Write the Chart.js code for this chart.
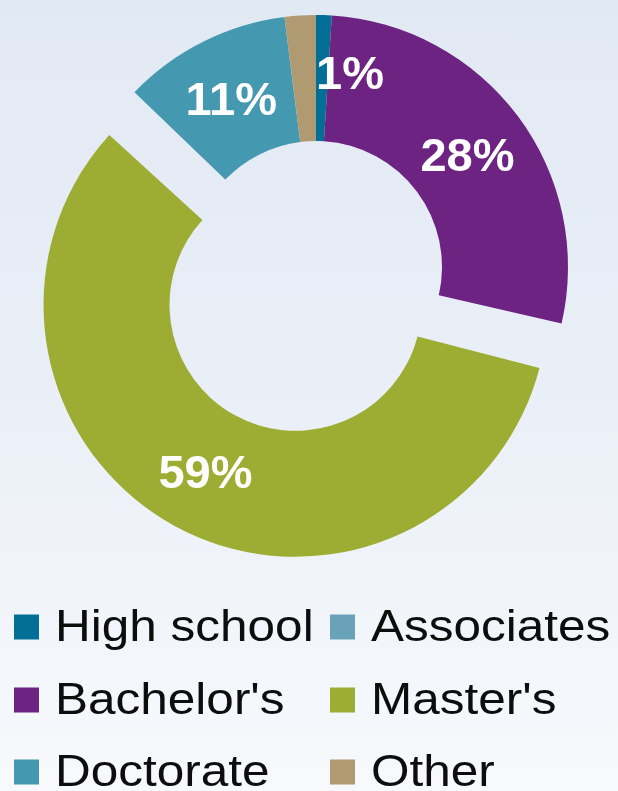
<!DOCTYPE html>
<html lang="en">
<head>
    <meta charset="UTF-8">
    <title>Highest degree</title>
    <script src="https://cdn.jsdelivr.net/npm/chart.js"></script>
    <style>
        html, body {
            margin: 0;
            padding: 0;
        }
        body {
            width: 618px;
            height: 791px;
            background: linear-gradient(to bottom, #e1e9f3 0%, #eaeff7 50%, #f7f9fc 100%);
            font-family: 'Liberation Sans', Arial, sans-serif;
            overflow: hidden;
        }
        canvas {
            display: block;
        }
    </style>
</head>
<body>
    <canvas id="degreeChart" width="618" height="791"></canvas>

    <script>
        // Data
        const categories = ['High school', 'Associates', "Bachelor's", "Master's", 'Doctorate', 'Other'];
        const shares = [1.0, 0, 27.6, 58.6, 10.8, 2.0];
        const showValue = [true, false, true, true, true, false];
        const colors = ['#036f96', '#6aa3b9', '#6d2382', '#9dad33', '#4499b0', '#b09a72'];
        // only Master's is pulled out of the ring
        const explode = [0, 0, 0, 43, 0, 0];

        // extra radius Chart.js adds when it draws an offset arc
        function radiusGrow(arc) {
            const off = (arc.options.offset || 0) / 4;
            return off * (1 - Math.sin(Math.min(Math.PI, arc.circumference || 0)));
        }

        // Chart.js translates an offset arc by offset/4 and also grows its radii;
        // keep the radii equal to the ring and only move the slice
        const explodeFix = {
            id: 'explodeFix',
            beforeDatasetsDraw(chart) {
                const meta = chart.getDatasetMeta(0);
                const ctrl = meta.controller;
                meta.data.forEach(arc => {
                    const grow = radiusGrow(arc);
                    if (grow) {
                        arc.outerRadius = ctrl.outerRadius - grow;
                        arc.innerRadius = ctrl.innerRadius - grow;
                    }
                });
            }
        };

        const sliceLabels = {
            id: 'sliceLabels',
            afterDatasetsDraw(chart) {
                const ctx = chart.ctx;
                const meta = chart.getDatasetMeta(0);
                const total = shares.reduce((a, b) => a + b, 0);
                const size = 47;
                ctx.save();
                ctx.fillStyle = '#ffffff';
                ctx.font = 'bold ' + size + 'px "Liberation Sans", Arial, sans-serif';
                ctx.textBaseline = 'alphabetic';
                const lift = size * 0.716 / 2;
                meta.data.forEach((arc, i) => {
                    if (!showValue[i]) return;
                    const off = (arc.options.offset || 0) / 4;
                    const grow = radiusGrow(arc);
                    const mid = (arc.startAngle + arc.endAngle) / 2;
                    const cx = arc.x + Math.cos(mid) * off;
                    const cy = arc.y + Math.sin(mid) * off;
                    const inner = arc.innerRadius + grow;
                    const outer = arc.outerRadius + grow;
                    const r = (inner + outer) / 2;
                    const text = Math.round(shares[i] / total * 100) + '%';
                    if (shares[i] / total < 0.05) {
                        // thin slice: text starts at the slice edge
                        const rr = r + (outer - inner) * 0.05;
                        ctx.textAlign = 'left';
                        ctx.fillText(text, cx + Math.cos(arc.startAngle) * rr, cy + Math.sin(arc.startAngle) * rr + lift);
                    } else {
                        ctx.textAlign = 'center';
                        ctx.fillText(text, cx + Math.cos(mid) * r, cy + Math.sin(mid) * r + lift);
                    }
                });
                ctx.restore();
            }
        };

        // two column legend under the ring
        const gridLegend = {
            id: 'gridLegend',
            afterDraw(chart) {
                const ctx = chart.ctx;
                const colX = [14, 330];
                const rowY = [627, 700, 772];
                const box = 25;
                ctx.save();
                ctx.font = '45px "Liberation Sans", Arial, sans-serif';
                ctx.textBaseline = 'middle';
                ctx.textAlign = 'left';
                categories.forEach((name, i) => {
                    const x = colX[i % 2];
                    const y = rowY[Math.floor(i / 2)];
                    ctx.fillStyle = colors[i];
                    ctx.fillRect(x, y - box / 2, box, box);
                    ctx.fillStyle = '#0d0d0d';
                    ctx.save();
                    ctx.translate(x + box + 16, y + 2);
                    ctx.scale(1.1, 1);
                    ctx.fillText(name, 0, 0);
                    ctx.restore();
                });
                ctx.restore();
            }
        };

        const chart = new Chart(document.getElementById('degreeChart'), {
            type: 'doughnut',
            data: {
                labels: categories,
                datasets: [{
                    data: shares,
                    backgroundColor: colors,
                    borderWidth: 0,
                    offset: explode.map(v => v * 4),
                    radius: 252,
                    cutout: '50%'
                }]
            },
            options: {
                responsive: false,
                devicePixelRatio: 1,
                animation: false,
                layout: {
                    padding: { left: 14, right: 0, top: 0, bottom: 257 }
                },
                plugins: {
                    legend: { display: false },
                    tooltip: { enabled: false }
                }
            },
            plugins: [explodeFix, sliceLabels, gridLegend]
        });
    </script>
</body>
</html>
